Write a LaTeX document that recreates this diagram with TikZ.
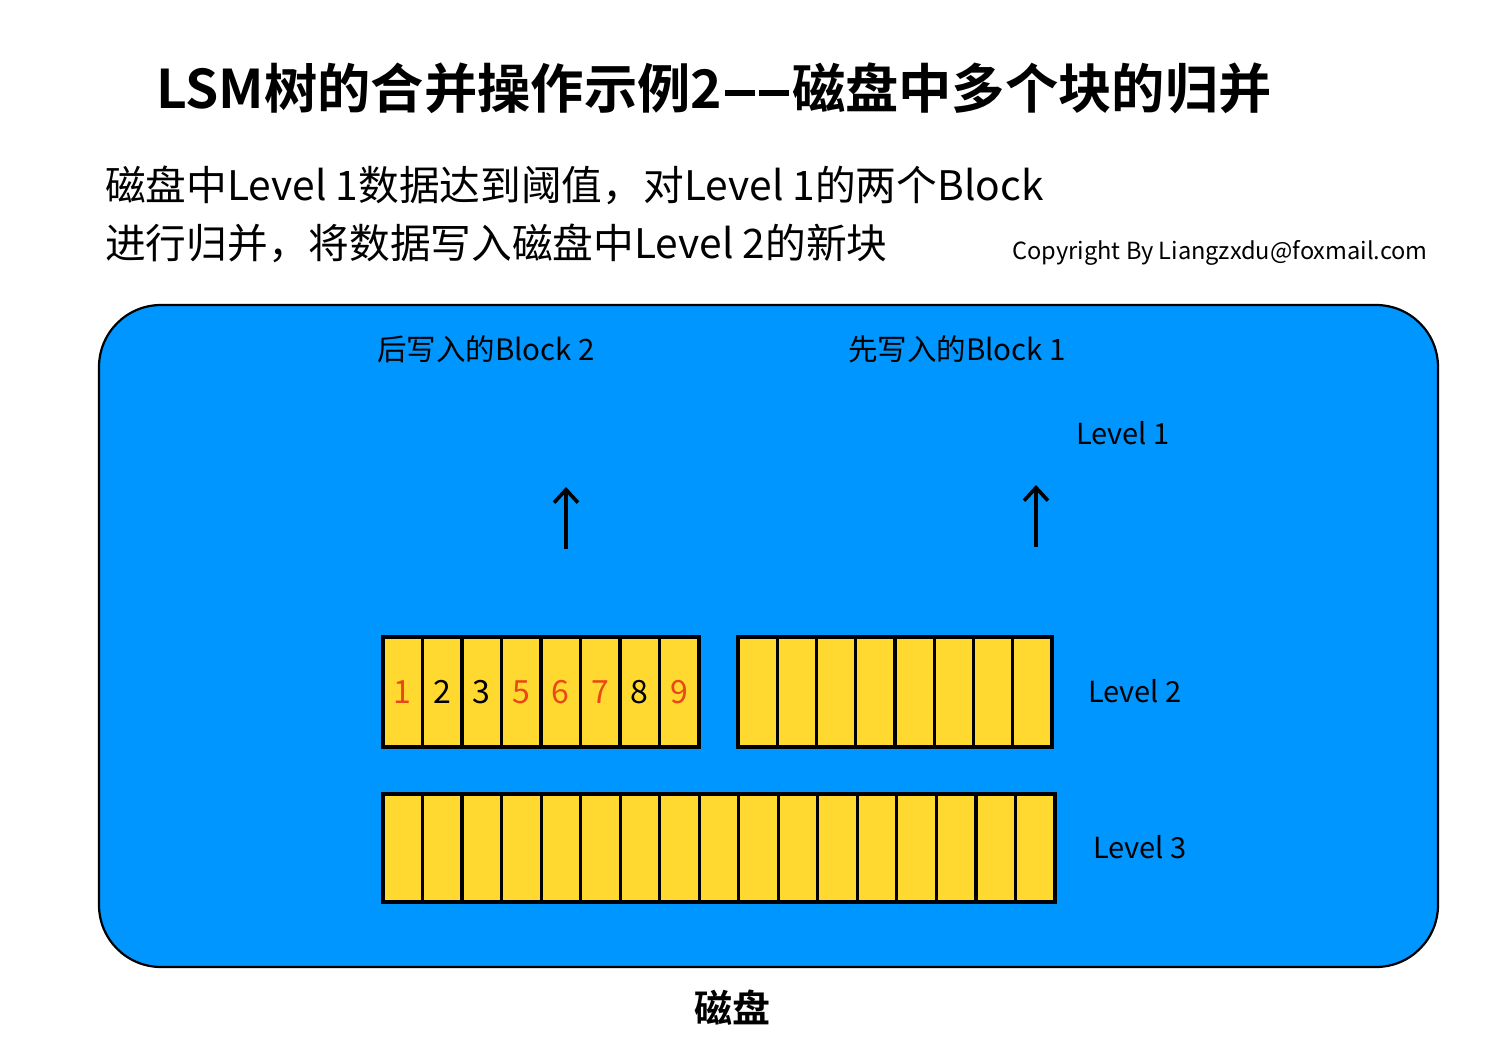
\documentclass[tikz,border=0pt]{standalone}
\usepackage{fontspec}
\setmainfont{Noto Sans CJK SC}[BoldFont={Noto Sans CJK SC Bold}]
\usetikzlibrary{arrows.meta}
\definecolor{diskblue}{RGB}{0,150,255}
\definecolor{cellyellow}{RGB}{255,217,47}
\definecolor{numred}{RGB}{232,72,22}
\newcommand{\titledash}{\rule[12pt]{30pt}{6pt}}
\tikzset{
  cell/.style={draw=black, line width=3.2pt, fill=cellyellow, inner sep=0pt, minimum height=110pt, font=\fontsize{32}{36}\selectfont},
  cellthree/.style={cell, minimum height=108pt},
  lbl/.style={inner sep=0pt, font=\fontsize{29.5}{34}\selectfont},
  lvl/.style={inner sep=0pt, font=\fontsize{29}{34}\selectfont},
  uparrow/.style={line width=3.6pt, -{Straight Barb[length=13pt,width=24pt,line width=3.6pt]}},
}
\begin{document}
\begin{tikzpicture}[x=1pt,y=-1pt]
\useasboundingbox[fill=white] (0,0) rectangle (1508,1051);
% title and description
\node[inner sep=0pt, font=\bfseries\fontsize{53.3}{60}\selectfont] (title) at (714,88) {LSM树的合并操作示例2\kern3pt\titledash\kern4pt\titledash\kern3pt磁盘中多个块的归并};
\node[anchor=west, inner sep=0pt, font=\fontsize{40.7}{46}\selectfont] (sub1) at (105,185) {磁盘中Level 1数据达到阈值，对Level 1的两个Block};
\node[anchor=west, inner sep=0pt, font=\fontsize{40.7}{46}\selectfont] (sub2) at (105,243) {进行归并，将数据写入磁盘中Level 2的新块};
\node[anchor=east, inner sep=0pt, font=\fontsize{23.6}{27}\selectfont] (copy) at (1428,253) {Copyright By Liangzxdu@foxmail.com};
% disk
\node[draw=black, line width=2.2pt, fill=diskblue, rounded corners=62pt, minimum width=1339pt, minimum height=662pt, inner sep=0pt] (disk) at (768.5,636) {};
\node[inner sep=0pt, font=\bfseries\fontsize{38}{44}\selectfont] (disklbl) at (732,1008) {磁盘};
% block labels
\node[lbl] (b2lbl) at (486,349) {后写入的Block 2};
\node[lbl] (b1lbl) at (957,349) {先写入的Block 1};
\node[lvl, anchor=west] (lv1) at (1076,433) {Level 1};
\node[lvl, anchor=west] (lv2) at (1088,691) {Level 2};
\node[lvl, anchor=west] (lv3) at (1093,847) {Level 3};
% arrows
\coordinate (a1s) at (566,549);
\coordinate (a1e) at (566,487);
\coordinate (a2s) at (1036,547);
\coordinate (a2e) at (1036,485);
\draw[uparrow] (a1s) -- (a1e);
\draw[uparrow] (a2s) -- (a2e);
% level 2 left block (merged new block)
\foreach \i/\t/\c in {0/1/numred,1/2/black,2/3/black,3/5/numred,4/6/numred,5/7/numred,6/8/black,7/9/numred}{
  \node[cell, minimum width=39.5pt, text=\c] (L\i) at (383+39.5*\i+19.75,692) {\t};
}
% level 2 right block
\foreach \i in {0,...,7}{
  \node[cell, minimum width=39.25pt] (R\i) at (738+39.25*\i+19.625,692) {};
}
% level 3
\foreach \i in {0,...,16}{
  \node[cellthree, minimum width=39.53pt] (T\i) at (383+39.53*\i+19.765,848) {};
}
\end{tikzpicture}
\end{document}
